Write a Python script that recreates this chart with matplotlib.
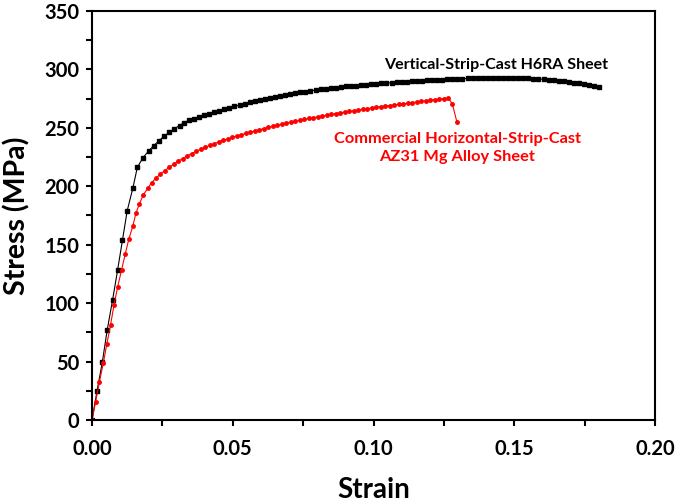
import matplotlib
matplotlib.use("Agg")
import matplotlib.pyplot as plt
from matplotlib.ticker import MultipleLocator

# Vertical-strip-cast H6RA sheet (black)
h6ra_strain = [0.0, 0.0018, 0.0037, 0.0054, 0.0073, 0.0091, 0.0108, 0.0125, 0.0145, 0.0161,
               0.0180, 0.0201, 0.0219, 0.0238, 0.0257, 0.0275, 0.0293, 0.0311, 0.0327,
               0.0344, 0.0362, 0.0380, 0.0398, 0.0416, 0.0434, 0.0452, 0.0470, 0.0488, 0.0506,
               0.0524, 0.0542, 0.0560, 0.0578, 0.0596, 0.0614, 0.0632, 0.0650, 0.0668, 0.0686,
               0.0704, 0.0722, 0.0740, 0.0758, 0.0776, 0.0794, 0.0812, 0.0830, 0.0848, 0.0866,
               0.0884, 0.0902, 0.0920, 0.0938, 0.0956, 0.0974, 0.0992, 0.1010, 0.1028, 0.1046,
               0.1064, 0.1082, 0.1100, 0.1118, 0.1136, 0.1154, 0.1172, 0.1190, 0.1208, 0.1226,
               0.1244, 0.1262, 0.1280, 0.1298, 0.1316, 0.1334, 0.1352, 0.1370, 0.1388, 0.1406,
               0.1424, 0.1442, 0.1460, 0.1478, 0.1496, 0.1514, 0.1532, 0.1550, 0.1568, 0.1586,
               0.1604, 0.1622, 0.1640, 0.1658, 0.1676, 0.1694, 0.1712, 0.1730, 0.1748, 0.1766,
               0.1784, 0.1800]
h6ra_stress = [0.0, 25.0, 50.0, 77.0, 102.5, 128.4, 153.6, 179.0, 198.3, 216.2,
               224.0, 230.2, 234.7, 239.0, 243.0, 246.2, 249.3, 252.0, 254.4,
               256.4, 257.9, 259.4, 260.8, 262.2, 263.5, 264.8, 266.1, 267.3, 268.4,
               269.5, 270.6, 271.7, 272.7, 273.7, 274.6, 275.5, 276.4, 277.3, 278.1,
               278.9, 279.6, 280.3, 281.0, 281.7, 282.3, 282.9, 283.5, 284.0, 284.5,
               285.0, 285.4, 285.8, 286.2, 286.6, 287.0, 287.4, 287.7, 288.0, 288.3,
               288.6, 288.9, 289.2, 289.5, 289.8, 290.1, 290.4, 290.7, 290.9, 291.1,
               291.3, 291.5, 291.7, 291.9, 292.1, 292.3, 292.4, 292.5, 292.6, 292.7,
               292.8, 292.8, 292.8, 292.7, 292.6, 292.5, 292.4, 292.3, 292.1, 291.9,
               291.6, 291.3, 290.9, 290.4, 289.8, 289.2, 288.6, 288.0, 287.3, 286.6,
               285.8, 285.0]

# Commercial horizontal-strip-cast AZ31 sheet (red)
az31_strain = [0.0, 0.0013, 0.0026, 0.0040, 0.0053, 0.0066, 0.0078, 0.0091, 0.0105, 0.0118,
               0.0131, 0.0145, 0.0156, 0.0168, 0.0182, 0.0198, 0.0212, 0.0226, 0.0242,
               0.0258, 0.0274, 0.0290, 0.0306, 0.0322, 0.0338, 0.0354, 0.0370, 0.0386, 0.0402,
               0.0418, 0.0434, 0.0450, 0.0466, 0.0482, 0.0498, 0.0514, 0.0530, 0.0546, 0.0562,
               0.0578, 0.0594, 0.0610, 0.0626, 0.0642, 0.0658, 0.0674, 0.0690, 0.0706, 0.0722,
               0.0738, 0.0754, 0.0770, 0.0786, 0.0802, 0.0818, 0.0834, 0.0850, 0.0866, 0.0882,
               0.0898, 0.0914, 0.0930, 0.0946, 0.0962, 0.0978, 0.0994, 0.1010, 0.1026, 0.1042,
               0.1058, 0.1074, 0.1090, 0.1106, 0.1122, 0.1138, 0.1154, 0.1170, 0.1186, 0.1202,
               0.1218, 0.1234, 0.1250, 0.1266, 0.1280, 0.1296]
az31_stress = [0.0, 15.7, 32.3, 48.5, 65.3, 81.6, 98.1, 113.8, 128.4, 142.0,
               154.9, 166.0, 176.9, 184.8, 192.5, 198.3, 203.1, 206.8, 210.2,
               213.3, 216.2, 218.9, 221.4, 223.7, 225.9, 228.0, 229.9, 231.7, 233.4,
               235.0, 236.5, 237.9, 239.3, 240.6, 241.8, 243.0, 244.1, 245.2, 246.3,
               247.3, 248.3, 249.3, 250.3, 251.2, 252.1, 253.0, 253.9, 254.8, 255.6,
               256.4, 257.2, 258.0, 258.7, 259.4, 260.1, 260.8, 261.5, 262.2, 262.8,
               263.4, 264.0, 264.6, 265.2, 265.8, 266.4, 267.0, 267.6, 268.1, 268.6,
               269.1, 269.6, 270.1, 270.6, 271.1, 271.6, 272.1, 272.6, 273.1, 273.6,
               274.1, 274.6, 275.1, 275.6, 270.4, 255.3]

x_ticks = [0.00, 0.05, 0.10, 0.15, 0.20]
y_ticks = [0, 50, 100, 150, 200, 250, 300, 350]

plt.rcParams['font.family'] = ['Lato', 'DejaVu Sans']
plt.rcParams['font.weight'] = 'bold'

fig = plt.figure(figsize=(6.75, 5.04), dpi=100)
ax = fig.add_axes([0.1363, 0.1667, 0.8341, 0.8115])

ax.plot(h6ra_strain, h6ra_stress, color='black', lw=0.8, marker='s', ms=2.5,
        mec='black', mfc='black')
ax.plot(az31_strain, az31_stress, color='red', lw=0.8, marker='o', ms=2.5,
        mec='red', mfc='red')

ax.set_xlim(0, 0.20)
ax.set_ylim(0, 350)
ax.set_xticks(x_ticks)
ax.set_xticklabels(["%.2f" % t for t in x_ticks])
ax.set_yticks(y_ticks)
ax.xaxis.set_minor_locator(MultipleLocator(0.025))
ax.yaxis.set_minor_locator(MultipleLocator(25))

for sp in ax.spines.values():
    sp.set_linewidth(1.5)
ax.tick_params(which='both', direction='out', width=1.5, length=4,
               top=False, right=False, labelsize=14.5)
ax.tick_params(axis='x', pad=10)
ax.tick_params(axis='y', pad=5)

ax.set_xlabel("Strain", fontsize=20, fontweight='bold', labelpad=13)
ax.set_ylabel("Stress (MPa)", fontsize=20.5, fontweight='bold', labelpad=10)

ax.text(0.1437, 304, "Vertical-Strip-Cast H6RA Sheet", fontsize=11.5,
        fontweight='bold', color='black', ha='center', va='center')
ax.text(0.1297, 233, "Commercial Horizontal-Strip-Cast\nAZ31 Mg Alloy Sheet",
        fontsize=11.8, fontweight='bold', color='red', ha='center', va='center',
        linespacing=1.4)

fig.savefig("out.png", dpi=100)
